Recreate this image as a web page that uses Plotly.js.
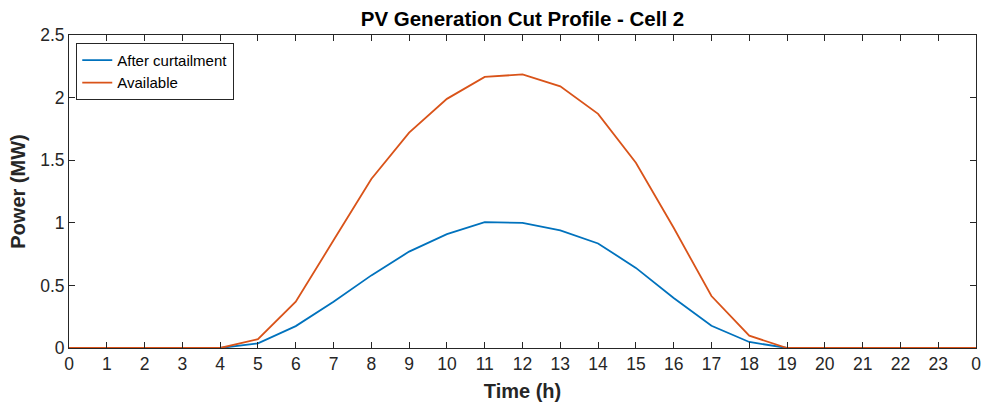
<!DOCTYPE html>
<html><head><meta charset="utf-8">
<script src="https://cdn.plot.ly/plotly-3.0.1.min.js"></script>
<style>html,body{margin:0;padding:0;background:#fff}#c{width:982px;height:405px}</style>
</head><body><div id="c"></div>
<script>
const hours = [0,1,2,3,4,5,6,7,8,9,10,11,12,13,14,15,16,17,18,19,20,21,22,23,24];
const afterCurtailment = [0,0,0,0,0,0.037,0.175,0.37,0.58,0.77,0.91,1.005,1.0,0.94,0.835,0.64,0.40,0.178,0.048,0,0,0,0,0,0];
const available = [0,0,0,0,0,0.07,0.37,0.86,1.35,1.72,1.99,2.165,2.185,2.09,1.87,1.48,0.96,0.415,0.098,0,0,0,0,0,0];
const tickLabels = ["0","1","2","3","4","5","6","7","8","9","10","11","12","13","14","15","16","17","18","19","20","21","22","23","0"];
const yTicks = [0,0.5,1,1.5,2,2.5];
const yTickLabels = ["0","0.5","1","1.5","2","2.5"];

const font = "Liberation Sans, Arial, Helvetica, sans-serif";
const data = [
  {x: hours, y: afterCurtailment, type:'scatter', mode:'lines', name:'After curtailment', line:{color:'#0072BD', width:1.8}},
  {x: hours, y: available, type:'scatter', mode:'lines', name:'Available', line:{color:'#D95319', width:1.8}}
];
const layout = {
  width: 982, height: 405,
  margin: {l:69, r:6, t:35, b:57},
  paper_bgcolor:'#fff', plot_bgcolor:'#fff',
  font: {family: font, color:'#262626', size:17.5},
  title: {text:'<b>PV Generation Cut Profile - Cell 2</b>', font:{size:20.5, color:'#000', family:font},
          x:0.5, xanchor:'center', xref:'paper', yref:'container', y:0.953, yanchor:'middle'},
  xaxis: {range:[0,24], tickvals:hours, ticktext:tickLabels, ticks:'inside', ticklen:6, tickcolor:'#262626',
          showline:true, linecolor:'#262626', linewidth:1, mirror:'ticks', showgrid:false, zeroline:false,
          tickfont:{size:17.5, color:'#262626'},
          title:{text:'<b>Time (h)</b>', font:{size:20, color:'#262626'}, standoff:10}},
  yaxis: {range:[0,2.5], tickvals:yTicks, ticktext:yTickLabels, ticks:'inside', ticklen:6, tickcolor:'#262626',
          showline:true, linecolor:'#262626', linewidth:1, mirror:'ticks', showgrid:false, zeroline:false,
          tickfont:{size:17.5, color:'#262626'},
          title:{text:'<b>Power (MW)</b>', font:{size:20, color:'#262626'}, standoff:9}},
  showlegend:true,
  legend: {x:0.008, y:0.975, xanchor:'left', yanchor:'top', bgcolor:'#fff', bordercolor:'#262626', borderwidth:1,
           font:{size:15, color:'#000'}, tracegroupgap:0, itemwidth:30}
};
Plotly.newPlot('c', data, layout, {displayModeBar:false, staticPlot:true});
</script></body></html>
